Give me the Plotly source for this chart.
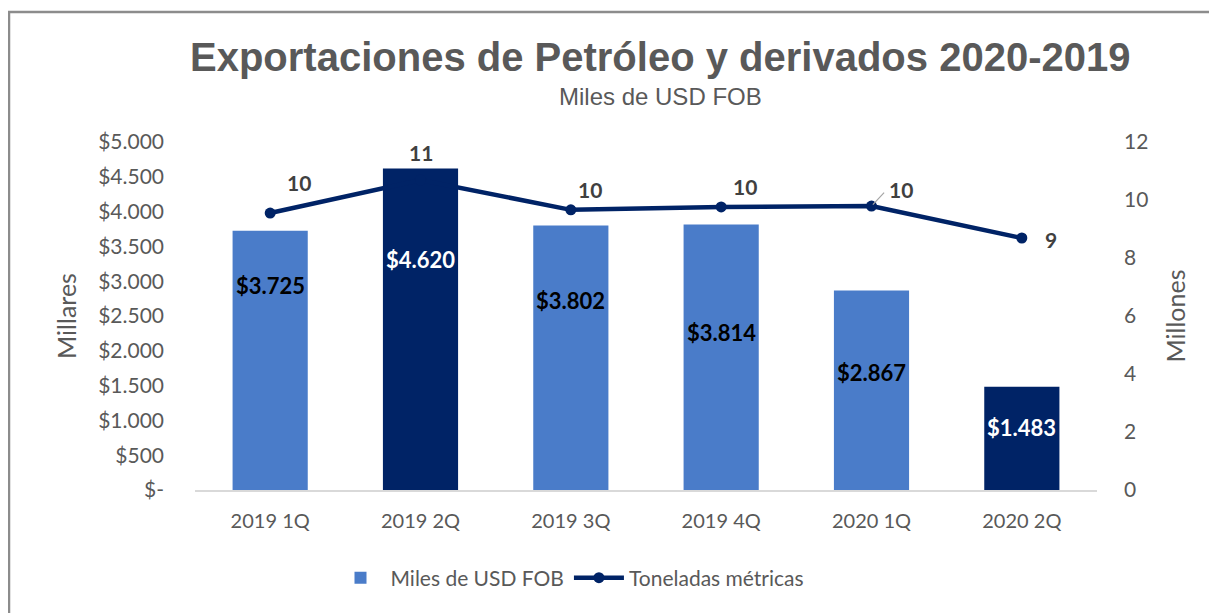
import plotly.graph_objects as go

categories = ["2019 1Q", "2019 2Q", "2019 3Q", "2019 4Q", "2020 1Q", "2020 2Q"]
usd_fob = [3725, 4620, 3802, 3814, 2867, 1483]          # miles de USD FOB (millares)
toneladas = [9.55, 10.69, 9.66, 9.76, 9.79, 8.69]        # millones de toneladas
bar_label_text = ["$3.725", "$4.620", "$3.802", "$3.814", "$2.867", "$1.483"]
left_tickvals = [0, 500, 1000, 1500, 2000, 2500, 3000, 3500, 4000, 4500, 5000]
left_ticktext = ["$-", "$500", "$1.000", "$1.500", "$2.000", "$2.500", "$3.000",
                 "$3.500", "$4.000", "$4.500", "$5.000"]
right_tickvals = [0, 2, 4, 6, 8, 10, 12]

# label placement (inside bars), in axis units
bar_label_y = [2945, 3305, 2716, 2256, 1695, 905]
# line label offsets in pixels (dx, dy up)
line_label_dx = [29, 0, 19, 24, 29, 29]
line_label_dy = [31, 27, 20, 20, 17, -2]

LIGHT = "#4A7CC9"
DARK = "#002366"
bar_colors = [LIGHT, DARK, LIGHT, LIGHT, LIGHT, DARK]
bar_label_colors = ["#000000", "#FFFFFF", "#000000", "#000000", "#000000", "#FFFFFF"]
GRAY = "#595959"
FONT = "Lato, Open Sans, sans-serif"

# page body has an 8px margin -> work in reference pixels minus 8
OFF = 8
W, H = 1217 - OFF, 613 - OFF
L, T = 195 - OFF, 142 - OFF
R = W - (1097 - OFF)
B = H - (490 - OFF)
pw, ph = W - L - R, H - T - B


def px(xr):
    return (xr - OFF - L) / pw


def py(yr):
    return ((490 - OFF) - (yr - OFF)) / ph


fig = go.Figure()
fig.add_trace(go.Bar(
    x=categories, y=usd_fob, name="Miles de USD FOB",
    marker=dict(color=bar_colors, line=dict(width=0)),
    yaxis="y",
))
fig.add_trace(go.Scatter(
    x=categories, y=toneladas, name="Toneladas métricas",
    mode="lines+markers", yaxis="y2",
    line=dict(color=DARK, width=4.5),
    marker=dict(color=DARK, size=11),
))

for c, yv, t, col in zip(categories, bar_label_y, bar_label_text, bar_label_colors):
    fig.add_annotation(x=c, y=yv, xref="x", yref="y", text=f"<b>{t}</b>",
                       showarrow=False, font=dict(family=FONT, size=22, color=col))

for c, v, dx, dy in zip(categories, toneladas, line_label_dx, line_label_dy):
    fig.add_annotation(x=c, y=v, xref="x", yref="y2", text=f"<b>{v:.0f}</b>",
                       showarrow=False, xshift=dx, yshift=dy,
                       font=dict(family=FONT, size=21, color="#404040"))

# leader line for the 2020 1Q label
fig.add_annotation(x=categories[4], y=toneladas[4], xref="x", yref="y2",
                   text="", showarrow=True, arrowhead=0, arrowwidth=1.2,
                   arrowcolor="#A6A6A6", ax=14, ay=-15, standoff=2)

# title and subtitle
fig.add_annotation(x=px(660), y=py(57), xref="paper", yref="paper",
                   text="<b>Exportaciones de Petróleo y derivados 2020-2019</b>",
                   showarrow=False, xanchor="center", yanchor="middle",
                   font=dict(family="Liberation Sans, Arial, sans-serif", size=40, color=GRAY))
fig.add_annotation(x=px(660), y=py(96), xref="paper", yref="paper",
                   text="Miles de USD FOB", showarrow=False,
                   xanchor="center", yanchor="middle",
                   font=dict(family="Liberation Sans, Arial, sans-serif", size=24, color=GRAY))

# outer frame
fig.add_shape(type="rect", xref="paper", yref="paper",
              x0=px(9), x1=px(1240), y0=py(640), y1=py(12),
              line=dict(color="#8C8C8C", width=2.5), layer="below")

fig.update_layout(
    width=W, height=H,
    margin=dict(l=L, r=R, t=T, b=B, autoexpand=False),
    paper_bgcolor="white", plot_bgcolor="white",
    bargap=0.5,
    showlegend=True,
    legend=dict(orientation="h", x=px(570), xanchor="center",
                y=py(578), yanchor="middle",
                font=dict(family=FONT, size=21, color=GRAY),
                itemwidth=50, tracegroupgap=0),
    xaxis=dict(
        showgrid=False, showline=True, linecolor="#D9D9D9", linewidth=1.5,
        ticks="", tickfont=dict(family=FONT, size=20, color=GRAY),
        ticklabelstandoff=12,
    ),
    yaxis=dict(
        range=[0, 5000], tickvals=left_tickvals, ticktext=left_ticktext,
        showgrid=False, zeroline=False, showline=False, ticks="",
        tickfont=dict(family=FONT, size=21, color=GRAY),
        title=dict(text="Millares", font=dict(family=FONT, size=25, color=GRAY),
                   standoff=14),
        ticklabelstandoff=30,
    ),
    yaxis2=dict(
        range=[0, 12], tickvals=right_tickvals, overlaying="y", side="right",
        showgrid=False, zeroline=False, showline=False, ticks="",
        tickfont=dict(family=FONT, size=21, color=GRAY),
        title=dict(text="Millones", font=dict(family=FONT, size=25, color=GRAY),
                   standoff=20),
        ticklabelstandoff=26,
    ),
)

fig.write_html("out.html")
